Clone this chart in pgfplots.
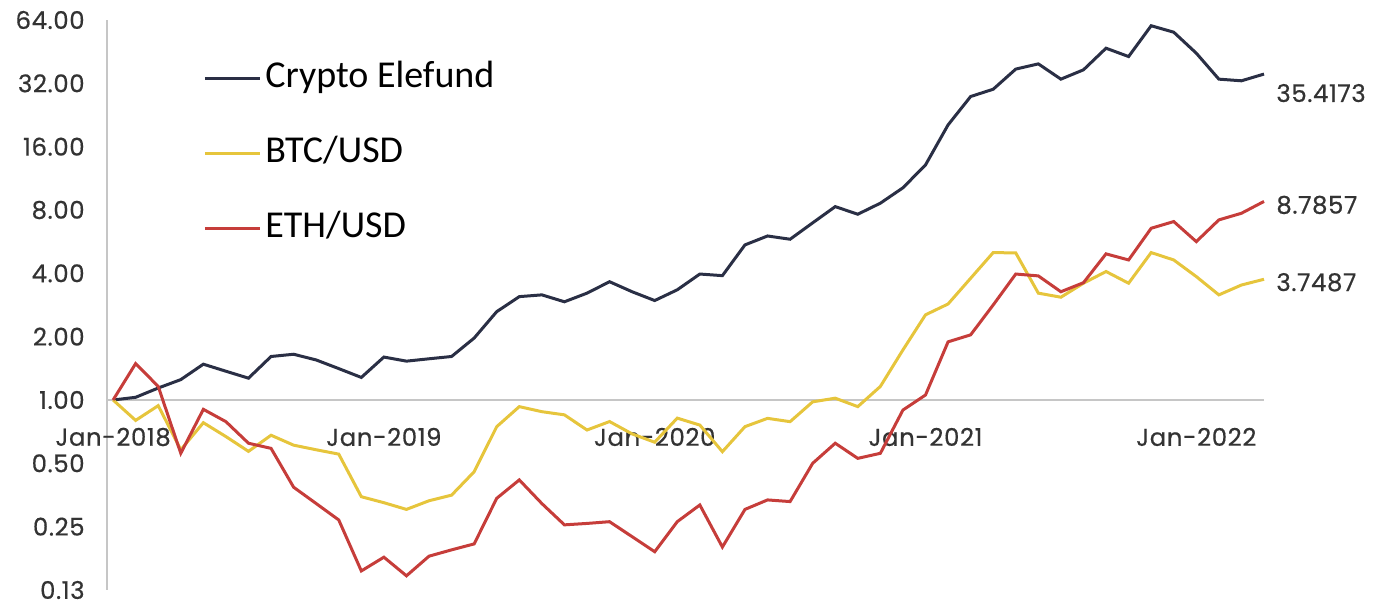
\documentclass[border=0pt]{standalone}
\usepackage{fontspec}
\setmainfont{Carlito}
\newfontfamily\numfont{Poppins}[FakeBold=0.5, LetterSpace=2.5]
\usepackage{pgfplots}
\pgfplotsset{compat=1.18}
\usepackage{pgfplotstable}

\definecolor{fundnavy}{HTML}{2A2F45}
\definecolor{btcgold}{HTML}{E6C53C}
\definecolor{ethred}{HTML}{C63D3A}
\definecolor{labelgray}{HTML}{333333}

% month index (0 = Jan-2018), growth of 1 unit
\pgfplotstableread{
idx fund btc eth
0  1.00  1.00   1.00
1  1.03  0.80   1.49
2  1.14  0.94   1.16
3  1.25  0.58   0.558
4  1.48  0.78   0.903
5  1.37  0.67   0.789
6  1.27  0.57   0.623
7  1.61  0.68   0.589
8  1.65  0.61   0.385
9  1.55  0.58   0.322
10 1.41  0.553  0.269
11 1.28  0.347  0.154
12 1.60  0.325  0.179
13 1.53  0.302  0.146
14 1.57  0.332  0.181
15 1.61  0.353  0.194
16 1.97  0.456  0.207
17 2.63  0.747  0.341
18 3.10  0.93   0.417
19 3.16  0.88   0.322
20 2.93  0.85   0.255
21 3.22  0.72   0.259
22 3.65  0.79   0.264
23 3.27  0.69   0.224
24 2.97  0.63   0.190
25 3.34  0.82   0.264
26 3.97  0.76   0.317
27 3.90  0.568  0.200
28 5.46  0.747  0.302
29 6.02  0.818  0.335
30 5.81  0.789  0.329
31 6.95  0.98   0.50
32 8.30  1.02   0.623
33 7.64  0.93   0.528
34 8.62  1.16   0.558
35 10.2  1.73   0.896
36 13.1  2.54   1.056
37 20.3  2.86   1.89
38 27.7  3.79   2.04
39 30.0  5.02   2.83
40 37.4  5.00   3.97
41 39.6  3.22   3.89
42 33.5  3.08   3.27
43 37.1  3.59   3.61
44 47.0  4.08   4.95
45 42.9  3.59   4.63
46 60.1  5.02   6.55
47 56.0  4.63   7.05
48 44.5  3.86   5.66
49 33.5  3.16   7.18
50 32.9  3.52   7.72
51 35.4173 3.7487 8.7857
}\perf

\begin{document}
\begin{tikzpicture}
\begin{axis}[
    name=ax,
    scale only axis,
    width=578.5pt, height=285pt,
    xmin=-0.27, xmax=51,
    ymode=log, log basis y=2,
    ymin=0.125, ymax=64,
    clip=false,
    axis y line*=left,
    axis x line*=bottom,
    x axis line style={draw=none},
    y axis line style={draw=gray!45, line width=0.8pt},
    major tick length=0pt,
    xtick={0,12,24,36,48},
    xticklabels={Jan-2018,Jan-2019,Jan-2020,Jan-2021,Jan-2022},
    x tick label style={font=\numfont\fontsize{12.2}{14}\selectfont, text=labelgray,
        anchor=center, yshift=76.5pt},
    ytick={0.125,0.25,0.5,1,2,4,8,16,32,64},
    yticklabels={0.13,0.25,0.50,1.00,2.00,4.00,8.00,16.00,32.00,64.00},
    y tick label style={font=\numfont\fontsize{12.2}{14}\selectfont, text=labelgray,
        anchor=east, inner sep=0pt, xshift=-11pt},
    extra y ticks={1},
    extra y tick labels={},
    extra y tick style={grid=major, major grid style={draw=gray!45, line width=0.8pt}},
    legend cell align=left,
    legend image code/.code={\draw[#1] (0pt,0pt) -- (27.5pt,0pt);},
    legend style={draw=none, fill=none, inner sep=0pt,
        at={(0.083,0.926)}, anchor=north west,
        font=\fontsize{19}{20}\selectfont, row sep=21.5pt,
        nodes={inner xsep=2pt, inner ysep=0pt, text height=12.5pt, text depth=3.5pt}},
]
\addplot[fundnavy, line width=1.5pt] table[x=idx, y=fund] {\perf};
\addplot[btcgold, line width=1.5pt] table[x=idx, y=btc] {\perf};
\addplot[ethred, line width=1.5pt] table[x=idx, y=eth] {\perf};
\legend{Crypto Elefund, BTC/USD, ETH/USD}

\node[anchor=west, inner sep=0pt, xshift=6pt, yshift=-9.5pt, text=labelgray,
      font=\numfont\fontsize{12.2}{14}\selectfont] at (axis cs:51,35.4173) {35.4173};
\node[anchor=west, inner sep=0pt, xshift=6pt, yshift=-1.75pt, text=labelgray,
      font=\numfont\fontsize{12.2}{14}\selectfont] at (axis cs:51,8.7857) {8.7857};
\node[anchor=west, inner sep=0pt, xshift=6pt, yshift=-1.5pt, text=labelgray,
      font=\numfont\fontsize{12.2}{14}\selectfont] at (axis cs:51,3.7487) {3.7487};
\end{axis}
\pgfresetboundingbox
\path (ax.south west) ++(-53.5pt,-7.5pt) rectangle ++(694pt,302.5pt);
\end{tikzpicture}
\end{document}
